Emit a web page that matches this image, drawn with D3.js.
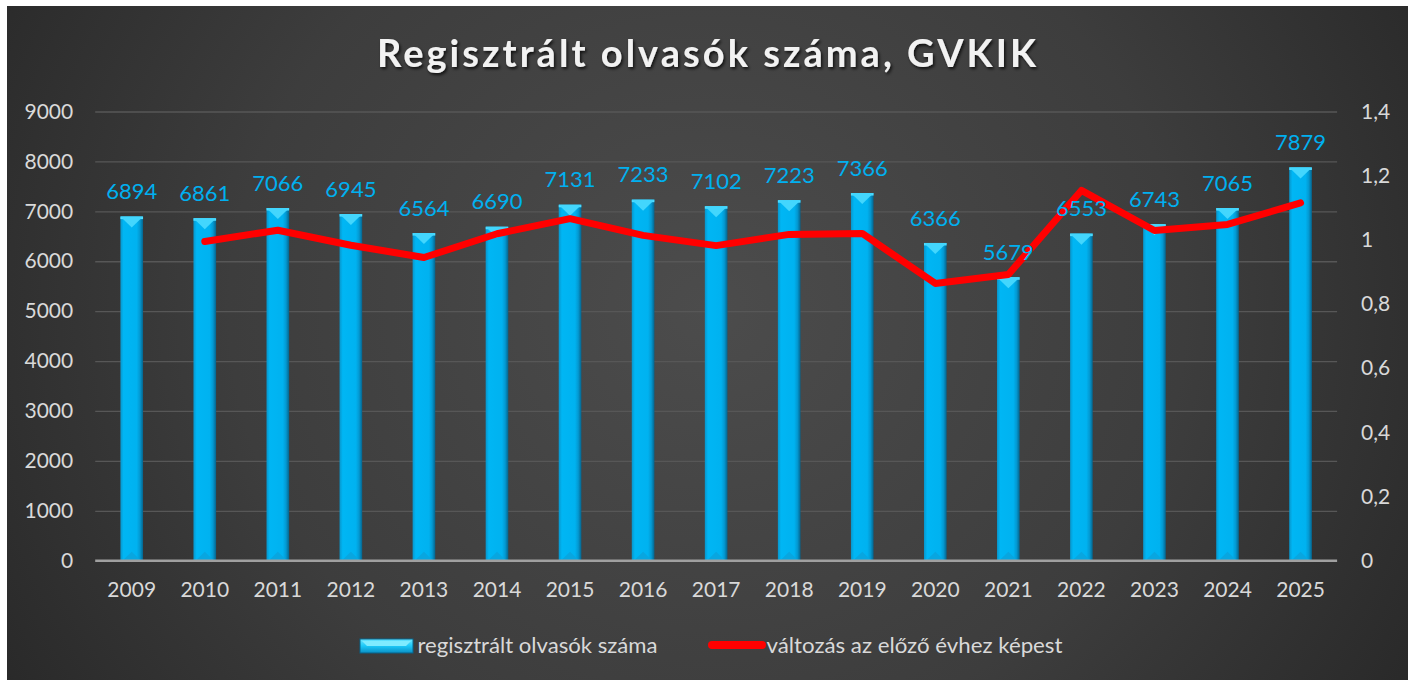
<!DOCTYPE html>
<html>
<head>
<meta charset="utf-8">
<script src="https://cdn.jsdelivr.net/npm/d3@7/dist/d3.min.js"></script>
<style>
html, body { margin: 0; padding: 0; background: #fff; }
svg { display: block; }
</style>
</head>
<body>
<div id="chart"></div>
<script>
var w = 1416,
	h = 680;

var years = ["2009", "2010", "2011", "2012", "2013", "2014", "2015", "2016", "2017",
	"2018", "2019", "2020", "2021", "2022", "2023", "2024", "2025"];
var readers = [6894, 6861, 7066, 6945, 6564, 6690, 7131, 7233, 7102,
	7223, 7366, 6366, 5679, 6553, 6743, 7065, 7879];
// change vs previous year (no value for 2009)
var change = [null, 0.995, 1.030, 0.983, 0.945, 1.019, 1.066, 1.014, 0.982,
	1.017, 1.020, 0.864, 0.892, 1.154, 1.029, 1.048, 1.115];
var leftTicks = [0, 1000, 2000, 3000, 4000, 5000, 6000, 7000, 8000, 9000];
var rightTicks = [0, 0.2, 0.4, 0.6, 0.8, 1, 1.2, 1.4];
var title = "Regisztrált olvasók száma, GVKIK";
var legendNames = ["regisztrált olvasók száma", "változás az előző évhez képest"];

var font = "Lato, 'Open Sans', sans-serif";
var plot = { left: 95.2, right: 1337.1, top: 111.5, bottom: 560.7 };

var root = d3.select("#chart").append("svg").attr("width", w).attr("height", h);
var defs = root.append("defs");

var bg = defs.append("radialGradient").attr("id", "bg")
	.attr("cx", "0.5").attr("cy", "0.45").attr("r", "0.62")
	.attr("gradientTransform", "translate(0.5,0.45) scale(1,1.9) translate(-0.5,-0.45)");
bg.append("stop").attr("offset", "0").attr("stop-color", "#4c4c4c");
bg.append("stop").attr("offset", "0.55").attr("stop-color", "#3d3d3d");
bg.append("stop").attr("offset", "1").attr("stop-color", "#262626");

var barGrad = defs.append("linearGradient").attr("id", "barGrad")
	.attr("x1", "0").attr("x2", "1").attr("y1", "0").attr("y2", "0");
barGrad.append("stop").attr("offset", "0").attr("stop-color", "#0896cc");
barGrad.append("stop").attr("offset", "0.14").attr("stop-color", "#00b6f4");
barGrad.append("stop").attr("offset", "0.72").attr("stop-color", "#00b2f0");
barGrad.append("stop").attr("offset", "0.86").attr("stop-color", "#0399d2");
barGrad.append("stop").attr("offset", "1").attr("stop-color", "#06648c");

var legGrad = defs.append("linearGradient").attr("id", "legGrad")
	.attr("x1", "0").attr("x2", "0").attr("y1", "0").attr("y2", "1");
legGrad.append("stop").attr("offset", "0").attr("stop-color", "#6ee6ff");
legGrad.append("stop").attr("offset", "0.5").attr("stop-color", "#1cc8f8");
legGrad.append("stop").attr("offset", "1").attr("stop-color", "#0a8fc4");

var shadow = defs.append("filter").attr("id", "shadow")
	.attr("x", "-10%").attr("y", "-30%").attr("width", "120%").attr("height", "160%");
shadow.append("feDropShadow").attr("dx", 1.5).attr("dy", 2).attr("stdDeviation", 1.6)
	.attr("flood-color", "#000").attr("flood-opacity", 0.75);

root.append("rect").attr("x", 7).attr("y", 6).attr("width", 1401).attr("height", 674)
	.style("fill", "url(#bg)");

var x = d3.scaleBand().domain(years).range([plot.left, plot.right])
	.paddingInner(0.69).paddingOuter(0.345);
var yL = d3.scaleLinear().domain([0, 9000]).range([plot.bottom, plot.top]);
var yR = d3.scaleLinear().domain([0, 1.4]).range([plot.bottom, plot.top]);

// gridlines
root.append("g").attr("class", "grid")
	.attr("transform", "translate(" + plot.left + ",0)")
	.call(d3.axisLeft(yL).tickValues(leftTicks.slice(1)).tickSize(-(plot.right - plot.left)).tickFormat(""))
	.call(function(g) {
		g.select(".domain").remove();
		g.selectAll("line").style("stroke", "#575757").style("stroke-width", 1.3);
	});

// left axis
root.append("g")
	.attr("transform", "translate(" + plot.left + ",0)")
	.call(d3.axisLeft(yL).tickValues(leftTicks).tickSize(0).tickPadding(22).tickFormat(d3.format("d")))
	.call(styleAxis);

// right axis
root.append("g")
	.attr("transform", "translate(" + plot.right + ",0)")
	.call(d3.axisRight(yR).tickValues(rightTicks).tickSize(0).tickPadding(24)
		.tickFormat(function(d) { return String(+d.toFixed(1)).replace(".", ","); }))
	.call(styleAxis);

// bottom axis
root.append("g")
	.attr("transform", "translate(0," + plot.bottom + ")")
	.call(d3.axisBottom(x).tickSize(0).tickPadding(21))
	.call(styleAxis);

function styleAxis(g) {
	g.select(".domain").remove();
	g.selectAll("text").style("font-family", font).style("font-size", "21px").style("fill", "#d9d9d9");
}

// bars
var bw = x.bandwidth();
var bars = root.append("g").selectAll("g").data(years).enter().append("g");
bars.append("rect")
	.attr("x", function(d) { return x(d); })
	.attr("y", function(d, i) { return yL(readers[i]); })
	.attr("width", bw)
	.attr("height", function(d, i) { return plot.bottom - yL(readers[i]); })
	.style("fill", "url(#barGrad)");
bars.append("rect")
	.attr("x", function(d) { return x(d); })
	.attr("y", function(d, i) { return yL(readers[i]); })
	.attr("width", bw)
	.attr("height", 2.5)
	.style("fill", "#52dcff");
bars.append("path")
	.attr("d", function(d, i) {
		var x0 = x(d), y0 = yL(readers[i]);
		return "M" + x0 + "," + y0 + "L" + (x0 + bw) + "," + y0 + "L" + (x0 + bw / 2) + "," + (y0 + 11) + "Z";
	})
	.style("fill", "#43d6fd");
bars.append("path")
	.attr("d", function(d) {
		var x0 = x(d), y0 = plot.bottom;
		return "M" + (x0 + 2) + "," + y0 + "L" + (x0 + bw - 2) + "," + y0 + "L" + (x0 + bw / 2) + "," + (y0 - 9) + "Z";
	})
	.style("fill", "#08a6e0");

// baseline
root.append("line")
	.attr("x1", plot.left).attr("x2", plot.right)
	.attr("y1", plot.bottom).attr("y2", plot.bottom)
	.style("stroke", "#a0a0a0").style("stroke-width", 2.5);

// line series
var line = d3.line()
	.defined(function(d) { return d != null; })
	.x(function(d, i) { return x(years[i]) + bw / 2; })
	.y(function(d) { return yR(d); });
root.append("path").datum(change)
	.attr("d", line)
	.style("fill", "none").style("stroke", "#ff0000").style("stroke-width", 7)
	.style("stroke-linejoin", "round").style("stroke-linecap", "round");

// data labels
root.append("g").selectAll("text").data(years).enter().append("text")
	.attr("x", function(d) { return x(d) + bw / 2; })
	.attr("y", function(d, i) { return yL(readers[i]) - 25; })
	.attr("dy", "0.35em")
	.attr("text-anchor", "middle")
	.style("font-family", font).style("font-size", "22px").style("fill", "#00b0f0")
	.text(function(d, i) { return readers[i]; });

// title
root.append("text")
	.attr("x", 377).attr("y", 66.5)
	.attr("textLength", 659).attr("lengthAdjust", "spacing")
	.style("font-family", font).style("font-size", "38px").style("font-weight", "bold")
	.style("fill", "#f2f2f2").attr("filter", "url(#shadow)")
	.text(title);

// legend
var leg = root.append("g");
leg.append("rect").attr("x", 360).attr("y", 639).attr("width", 53).attr("height", 14)
	.style("fill", "url(#legGrad)").style("stroke", "#06648c").style("stroke-width", 1);
leg.append("path").attr("d", "M362,641L411,641L406,646L367,646Z").style("fill", "#7febff");
leg.append("text").attr("x", 417.5).attr("y", 646).attr("dy", "0.35em")
	.attr("textLength", 240).attr("lengthAdjust", "spacingAndGlyphs")
	.style("font-family", font).style("font-size", "21px").style("fill", "#d9d9d9")
	.text(legendNames[0]);
leg.append("line").attr("x1", 712).attr("x2", 762).attr("y1", 645).attr("y2", 645)
	.style("stroke", "#ff0000").style("stroke-width", 8).style("stroke-linecap", "round");
leg.append("text").attr("x", 766.5).attr("y", 646).attr("dy", "0.35em")
	.attr("textLength", 296).attr("lengthAdjust", "spacingAndGlyphs")
	.style("font-family", font).style("font-size", "21px").style("fill", "#d9d9d9")
	.text(legendNames[1]);
</script>
</body>
</html>
